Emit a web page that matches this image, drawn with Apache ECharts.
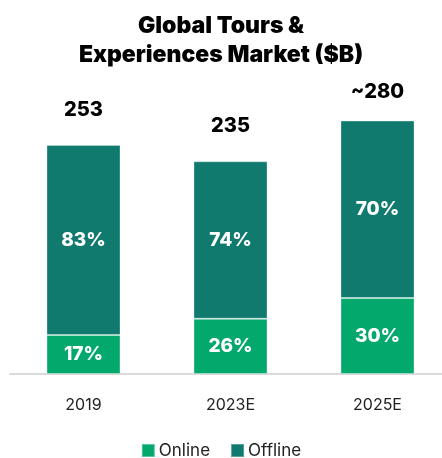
<!DOCTYPE html>
<html>
<head>
<meta charset="utf-8">
<script src="https://cdn.jsdelivr.net/npm/echarts@6/dist/echarts.min.js"></script>
<style>
  html, body { margin: 0; padding: 0; background: #fff; }
  #chart { width: 442px; height: 458px; }
</style>
</head>
<body>
<div id="chart"></div>
<script>
const years = ['2019', '2023E', '2025E']
const totals = [253, 235, 280]
const totalLabels = ['253', '235', '~280']
const onlinePct = [17, 26, 30]
const offlinePct = [83, 74, 70]

const font = 'Inter, "Noto Sans", sans-serif'
const onlineColor = '#02a86c'
const offlineColor = '#107a6f'

// segment sizes in $B, from the totals and shares shown
const online = totals.map((t, i) => t * onlinePct[i] / 100)
const offline = totals.map((t, i) => t * offlinePct[i] / 100)

const chart = echarts.init(document.getElementById('chart'))
chart.setOption({
  animation: false,
  title: {
    text: 'Global Tours &\nExperiences Market ($B)',
    left: 'center',
    top: 7,
    textStyle: {
      fontFamily: font,
      fontSize: 23,
      fontWeight: 900,
      lineHeight: 29,
      color: '#000'
    }
  },
  legend: {
    bottom: -6,
    left: 'center',
    itemWidth: 13,
    itemHeight: 13,
    itemGap: 20,
    icon: 'rect',
    textStyle: { fontFamily: font, fontSize: 17, color: '#222', padding: [0, 0, 0, -1] },
    data: ['Online', 'Offline']
  },
  grid: {
    left: 10,
    right: -9,
    top: 102.5,
    bottom: 84,
    outerBoundsMode: 'none'
  },
  xAxis: {
    type: 'category',
    data: years,
    axisLine: { lineStyle: { color: '#dadada', width: 2 } },
    axisTick: { show: false },
    axisLabel: { margin: 23, fontFamily: font, fontSize: 16, color: '#222' }
  },
  yAxis: {
    type: 'value',
    min: 0,
    max: 300,
    show: false
  },
  series: [
    {
      name: 'Online',
      type: 'bar',
      stack: 'total',
      barWidth: 74,
      data: online,
      itemStyle: { color: onlineColor, borderColor: 'rgba(255,255,255,0.35)', borderWidth: 1 },
      label: {
        show: true,
        position: 'inside',
        formatter: p => onlinePct[p.dataIndex] + '%',
        fontFamily: font,
        fontSize: 19,
        fontWeight: 800,
        color: '#fff'
      }
    },
    {
      name: 'Offline',
      type: 'bar',
      stack: 'total',
      barWidth: 74,
      data: offline,
      itemStyle: { color: offlineColor, borderColor: 'rgba(255,255,255,0.3)', borderWidth: 1 },
      label: {
        show: true,
        position: 'inside',
        formatter: p => offlinePct[p.dataIndex] + '%',
        fontFamily: font,
        fontSize: 19,
        fontWeight: 800,
        color: '#fff'
      }
    },
    {
      // invisible series carrying the total labels above each stack
      name: 'Total',
      type: 'bar',
      stack: 'total',
      barWidth: 74,
      data: totals.map((t, i) => ({ value: 0, label: { distance: i === 2 ? 19 : 25 } })),
      itemStyle: { color: 'transparent' },
      label: {
        show: true,
        position: 'top',
        formatter: p => totalLabels[p.dataIndex],
        fontFamily: font,
        fontSize: 20,
        fontWeight: 800,
        color: '#000'
      }
    }
  ]
})
</script>
</body>
</html>
